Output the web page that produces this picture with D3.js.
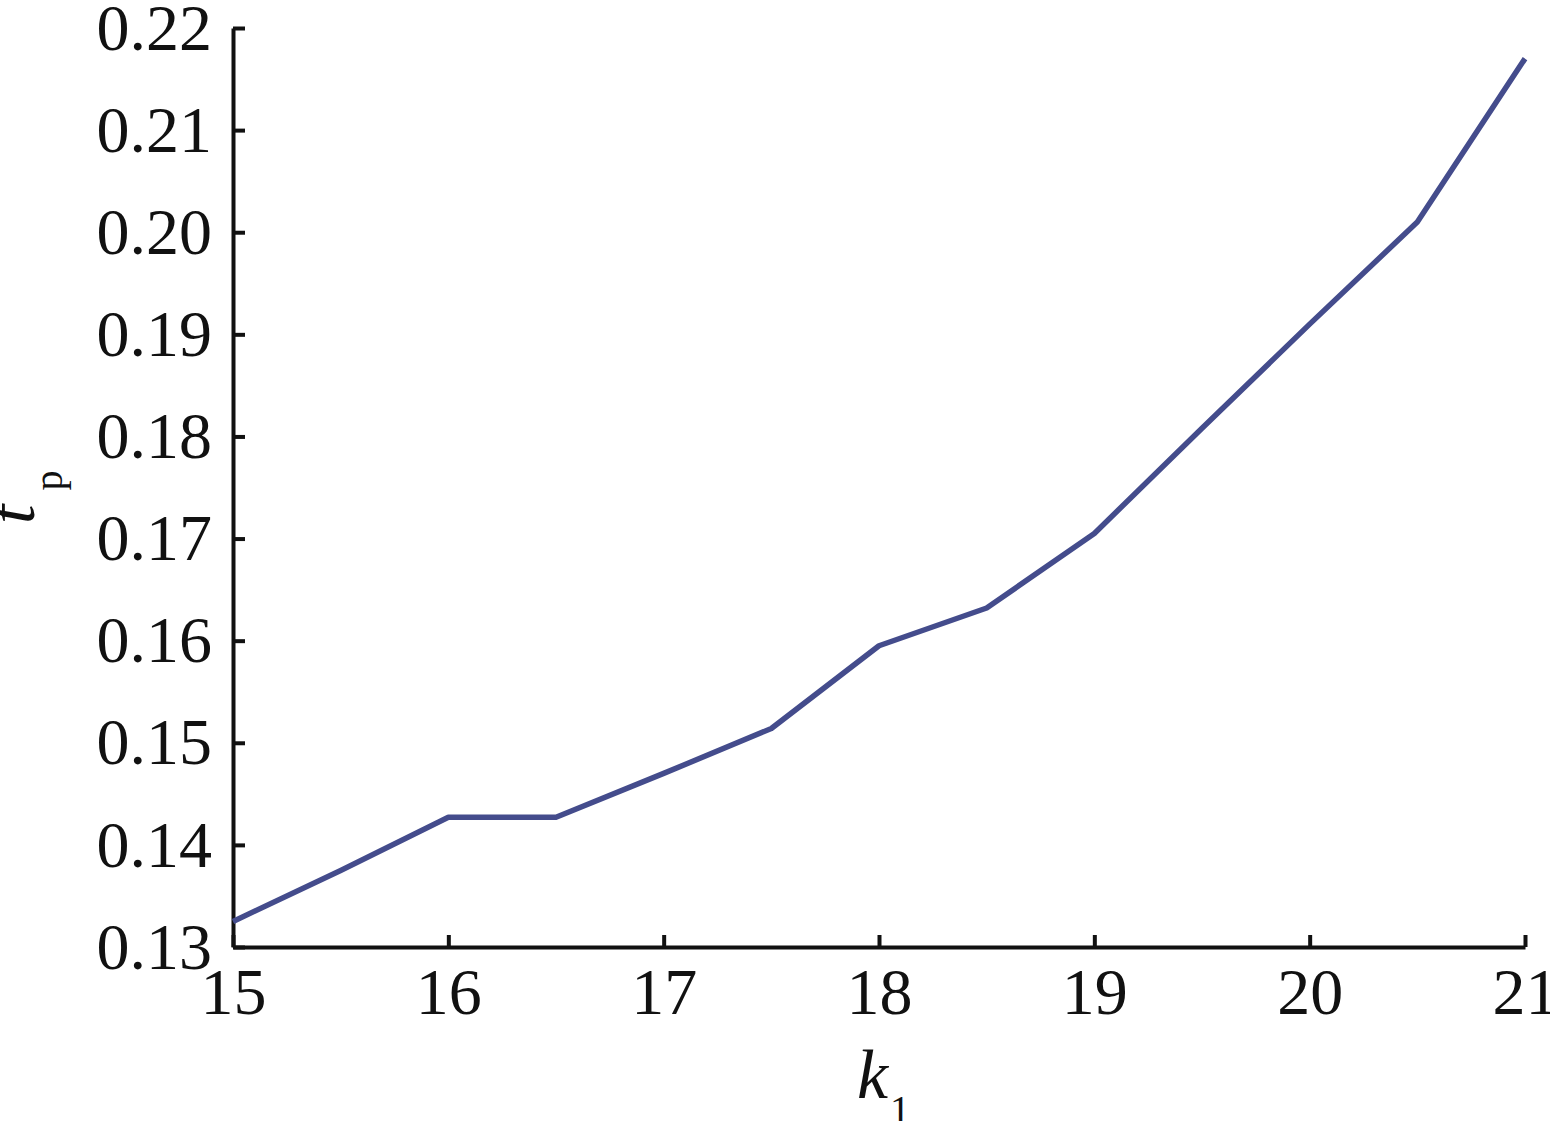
<!DOCTYPE html>
<html><head><meta charset="utf-8">
<script src="https://cdn.jsdelivr.net/npm/d3@7"></script>
<style>body{margin:0;background:#fff}svg{display:block}</style>
</head><body>
<script>
const k1 = [15, 15.5, 16, 16.5, 17, 17.5, 18, 18.5, 19, 19.5, 20, 20.5, 21];
const tp = [0.1325, 0.1375, 0.1427, 0.1427, 0.1470, 0.1514, 0.1595, 0.1632, 0.1705, 0.1808, 0.1910, 0.2010, 0.2170];
const xTicks = [15, 16, 17, 18, 19, 20, 21];
const yTicks = [0.13, 0.14, 0.15, 0.16, 0.17, 0.18, 0.19, 0.20, 0.21, 0.22];

const W = 1550, H = 1121;
const m = {left: 233, top: 28, right: 25, bottom: 174};
const svg = d3.select("body").append("svg").attr("width", W).attr("height", H);
const x = d3.scaleLinear().domain([15, 21]).range([m.left, W - m.right]);
const y = d3.scaleLinear().domain([0.13, 0.22]).range([H - m.bottom, m.top]);
const font = "Times New Roman, Liberation Serif, Times, serif";

const xa = svg.append("g").attr("transform", `translate(0,${H - m.bottom})`)
  .call(d3.axisBottom(x).tickValues(xTicks).tickFormat(d3.format("d")).tickSize(-12).tickSizeOuter(0).tickPadding(20));
const ya = svg.append("g").attr("transform", `translate(${m.left},0)`)
  .call(d3.axisLeft(y).tickValues(yTicks).tickFormat(d3.format(".2f")).tickSize(-12).tickSizeOuter(0).tickPadding(21));
[xa, ya].forEach(a => {
  a.select(".domain").attr("stroke", "#111").attr("stroke-width", 4);
  a.selectAll(".tick line").attr("stroke", "#111").attr("stroke-width", 4);
  a.selectAll("text").style("font-family", font).attr("font-size", 66).attr("fill", "#111");
});
xa.selectAll("text").attr("dy", "0.71em");

svg.append("path").datum(k1.map((d, i) => [d, tp[i]]))
  .attr("fill", "none").attr("stroke", "#444c8c").attr("stroke-width", 5.5)
  .attr("stroke-linejoin", "round")
  .attr("d", d3.line().x(d => x(d[0])).y(d => y(d[1])));

// x label
const xl = svg.append("text").attr("x", 857).attr("y", 1098).style("font-family", font).attr("fill", "#111");
xl.append("tspan").attr("font-style", "italic").attr("font-size", 70).text("k");
xl.append("tspan").attr("font-size", 40).attr("dx", 2).attr("dy", 25).text("1");

// y label
const yl = svg.append("text").attr("transform", "translate(34,524) rotate(-90)").style("font-family", font).attr("fill", "#111");
yl.append("tspan").attr("font-style", "italic").attr("font-size", 70).text("t");
yl.append("tspan").attr("font-size", 40).attr("dx", 14).attr("dy", 28).text("p");
</script>
</body></html>
